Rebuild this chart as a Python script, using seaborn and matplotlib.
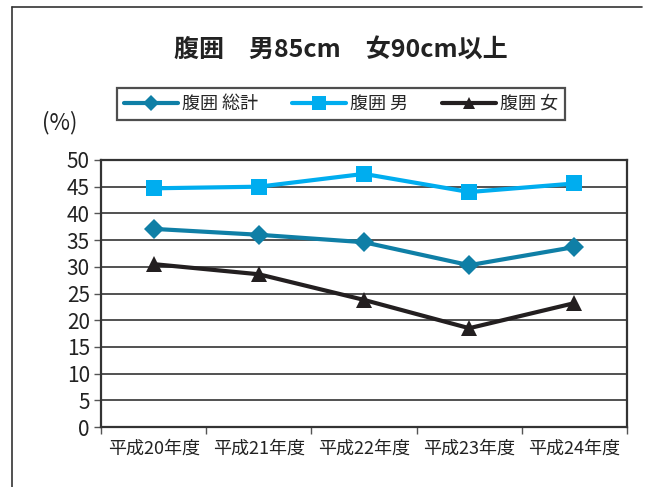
import pandas as pd
import matplotlib.pyplot as plt
import seaborn as sns
import numpy as np
from matplotlib.lines import Line2D

# Data
years = ["平成20年度", "平成21年度", "平成22年度", "平成23年度", "平成24年度"]
total = [37.1, 36.0, 34.6, 30.3, 33.7]
male = [44.7, 45.0, 47.4, 44.0, 45.6]
female = [30.5, 28.6, 23.8, 18.5, 23.2]
series_names = ["腹囲 総計", "腹囲 男", "腹囲 女"]

df = pd.DataFrame({
    "year": years * 3,
    "value": total + male + female,
    "series": np.repeat(series_names, len(years)),
})

sns.set_style("white")
plt.rcParams['font.family'] = ['Noto Sans CJK JP', 'DejaVu Sans']

colors = {"腹囲 総計": "#0f7fa6", "腹囲 男": "#00adef", "腹囲 女": "#231f20"}
markers = {"腹囲 総計": "D", "腹囲 男": "s", "腹囲 女": "^"}
msizes = {"腹囲 総計": 10, "腹囲 男": 12, "腹囲 女": 11}

fig = plt.figure(figsize=(6.49, 4.87), dpi=100)
ax = fig.add_axes([101 / 649, 1 - 427 / 487, 526 / 649, 267 / 487])

x_pos = {y: i for i, y in enumerate(years)}
df["x"] = df["year"].map(x_pos)

handles = []
for name in series_names:
    sub = df[df["series"] == name]
    sns.lineplot(data=sub, x="x", y="value", ax=ax, color=colors[name],
                 linewidth=3.0, marker=markers[name], markersize=msizes[name],
                 markeredgewidth=0, legend=False, zorder=3)
    handles.append(Line2D([], [], color=colors[name], linewidth=3.0,
                          marker=markers[name], markersize=msizes[name] - 2,
                          markeredgewidth=0, label=name))

ax.set_xlim(-0.5, 4.5)
ax.set_ylim(0, 50)
ax.set_yticks(np.arange(0, 51, 5))
ax.tick_params(axis="y", labelsize=15, length=5, width=1, direction="out",
               color="#555555", pad=3, left=True, labelcolor="#222222")
ax.set_xticks(np.arange(-0.5, 4.6, 1))
ax.set_xticklabels([])
ax.set_xticks(range(len(years)), minor=True)
ax.set_xticklabels(years, minor=True, fontsize=13, color="#222222")
ax.tick_params(axis="x", which="major", length=5, width=1, direction="out",
               color="#555555", bottom=True)
ax.tick_params(axis="x", which="minor", length=0, pad=9)
ax.grid(axis="y", color="#222222", linewidth=1.1)
ax.set_axisbelow(True)
for s in ax.spines.values():
    s.set_color("#333333")
    s.set_linewidth(1.6)
ax.set_xlabel("")
ax.set_ylabel("")

fig.text(341 / 649, 1 - 50 / 487, "腹囲　男85cm　女90cm以上", ha="center",
         va="center", fontsize=18, fontweight="bold", color="#222222")
fig.text(60 / 649, 1 - 123 / 487, "(%)", ha="center", va="center",
         fontsize=16, color="#222222")

leg = fig.legend(handles=handles, loc="center", ncol=3,
                 bbox_to_anchor=(341 / 649, 1 - 104 / 487), frameon=True,
                 fancybox=False, edgecolor="#222222", fontsize=13,
                 handlelength=3.0, columnspacing=1.9, handletextpad=0.2,
                 borderpad=0.4)
leg.get_frame().set_linewidth(1.6)

# outer frame (left and top edges visible)
fig.add_artist(Line2D([12 / 649, 12 / 649], [0, 1 - 7 / 487],
                      transform=fig.transFigure, color="#333333", linewidth=1.2))
fig.add_artist(Line2D([12 / 649, 642 / 649], [1 - 7 / 487, 1 - 7 / 487],
                      transform=fig.transFigure, color="#333333", linewidth=1.2))

plt.savefig("out.png", dpi=100)
